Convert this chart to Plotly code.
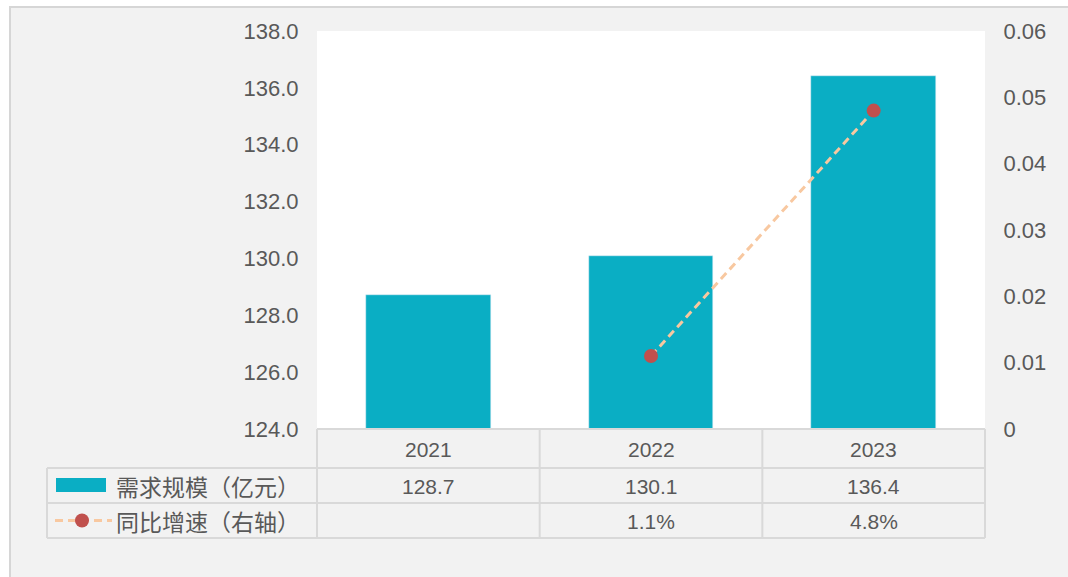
import plotly.graph_objects as go

years = ["2021", "2022", "2023"]
demand = [128.7, 130.1, 136.4]
growth = [None, 0.011, 0.048]
bar_name = "需求规模（亿元）"
line_name = "同比增速（右轴）"
left_ticks = [124, 126, 128, 130, 132, 134, 136, 138]
right_ticks = [0, 0.01, 0.02, 0.03, 0.04, 0.05, 0.06]

W, H = 1068, 577
PL, PR, PT, PB = 317, 985, 31, 429  # plot area in px


def px(x):
    return x / W


def py(y):
    return 1 - y / H


BAR_COLOR = "#0AAEC4"
LINE_COLOR = "#F8C8A0"
MARKER_COLOR = "#C0504D"
TEXT_COLOR = "#595959"
GRID_COLOR = "#D9D9D9"
FONT = "Liberation Sans, Noto Sans CJK SC, sans-serif"

fig = go.Figure()
fig.add_trace(go.Bar(x=years, y=demand, name=bar_name, marker_color=BAR_COLOR,
                     width=0.56, yaxis="y"))
fig.add_trace(go.Scatter(x=years, y=growth, name=line_name, mode="lines+markers",
                         line=dict(color=LINE_COLOR, width=3, dash="8px,5px"),
                         marker=dict(color=MARKER_COLOR, size=14),
                         yaxis="y2", connectgaps=False))

shapes = []
annotations = []

# outer frame
shapes.append(dict(type="rect", xref="paper", yref="paper", x0=px(10), x1=px(1075),
                   y0=py(590), y1=py(7), fillcolor="#F2F2F2",
                   line=dict(color="#D6D6D6", width=2), layer="below"))
# white plot area
shapes.append(dict(type="rect", xref="paper", yref="paper", x0=px(PL), x1=px(PR),
                   y0=py(PB), y1=py(PT), fillcolor="white", line=dict(width=0),
                   layer="below"))

# table grid
row_y = [429, 468, 503, 538]
col_x = [PL + (PR - PL) * i / 3 for i in range(4)]
LEFT = 47
shapes.append(dict(type="line", xref="paper", yref="paper", x0=px(PL), x1=px(PR),
                   y0=py(row_y[0]), y1=py(row_y[0]), line=dict(color=GRID_COLOR, width=2)))
for yy in row_y[1:]:
    shapes.append(dict(type="line", xref="paper", yref="paper", x0=px(LEFT), x1=px(PR),
                       y0=py(yy), y1=py(yy), line=dict(color=GRID_COLOR, width=2)))
for xx in col_x:
    shapes.append(dict(type="line", xref="paper", yref="paper", x0=px(xx), x1=px(xx),
                       y0=py(row_y[0]), y1=py(row_y[3]), line=dict(color=GRID_COLOR, width=2)))
shapes.append(dict(type="line", xref="paper", yref="paper", x0=px(LEFT), x1=px(LEFT),
                   y0=py(row_y[1]), y1=py(row_y[3]), line=dict(color=GRID_COLOR, width=2)))

centers = [(col_x[i] + col_x[i + 1]) / 2 for i in range(3)]
row_c = [(row_y[i] + row_y[i + 1]) / 2 for i in range(3)]
tfont = dict(family=FONT, size=21, color=TEXT_COLOR)


def cell(x, y, text, font, xanchor="center"):
    annotations.append(dict(x=px(x), y=py(y), xref="paper", yref="paper", text=text,
                            showarrow=False, font=font, xanchor=xanchor,
                            yanchor="middle"))


for i, yr in enumerate(years):
    cell(centers[i], row_c[0] + 1, yr, tfont)
    cell(centers[i], row_c[1] + 1, f"{demand[i]:.1f}", tfont)
    if growth[i] is not None:
        cell(centers[i], row_c[2] + 1, f"{growth[i] * 100:.1f}%", tfont)

# legend keys
shapes.append(dict(type="rect", xref="paper", yref="paper", x0=px(56), x1=px(106),
                   y0=py(492), y1=py(478), fillcolor=BAR_COLOR, line=dict(width=0)))
shapes.append(dict(type="line", xref="paper", yref="paper", x0=px(55), x1=px(112),
                   y0=py(row_c[2]), y1=py(row_c[2]),
                   line=dict(color=LINE_COLOR, width=3, dash="8px,5px")))
shapes.append(dict(type="circle", xref="paper", yref="paper", x0=px(75), x1=px(89),
                   y0=py(row_c[2] + 7), y1=py(row_c[2] - 7), fillcolor=MARKER_COLOR,
                   line=dict(width=0)))
lfont = dict(family="Noto Sans CJK SC, sans-serif", size=23, color=TEXT_COLOR)
cell(114, row_c[1], bar_name, lfont, xanchor="left")
cell(114, row_c[2], line_name, lfont, xanchor="left")

fig.update_layout(
    width=W, height=H, autosize=False,
    margin=dict(l=0, r=0, t=0, b=0, pad=0),
    paper_bgcolor="white", plot_bgcolor="white",
    showlegend=False, bargap=0,
    shapes=shapes, annotations=annotations,
    xaxis=dict(domain=[px(PL), px(PR)], showticklabels=False, showgrid=False,
               zeroline=False, showline=False, ticks="", type="category",
               automargin=False),
    yaxis=dict(domain=[py(PB), py(PT)], range=[124, 138], tickvals=left_ticks,
               tickformat=".1f", showgrid=False, zeroline=False, showline=False,
               ticks="outside", ticklen=13, tickcolor="rgba(0,0,0,0)", automargin=False,
               tickfont=dict(family=FONT, size=22, color=TEXT_COLOR)),
    yaxis2=dict(overlaying="y", side="right", range=[0, 0.06], tickvals=right_ticks,
                showgrid=False, zeroline=False, showline=False, automargin=False,
                ticks="outside", ticklen=13, tickcolor="rgba(0,0,0,0)",
                tickfont=dict(family=FONT, size=22, color=TEXT_COLOR)),
)

fig.write_html("out.html", config={"displayModeBar": False},
               post_script="document.body.style.margin='0';document.body.style.overflow='hidden';")
